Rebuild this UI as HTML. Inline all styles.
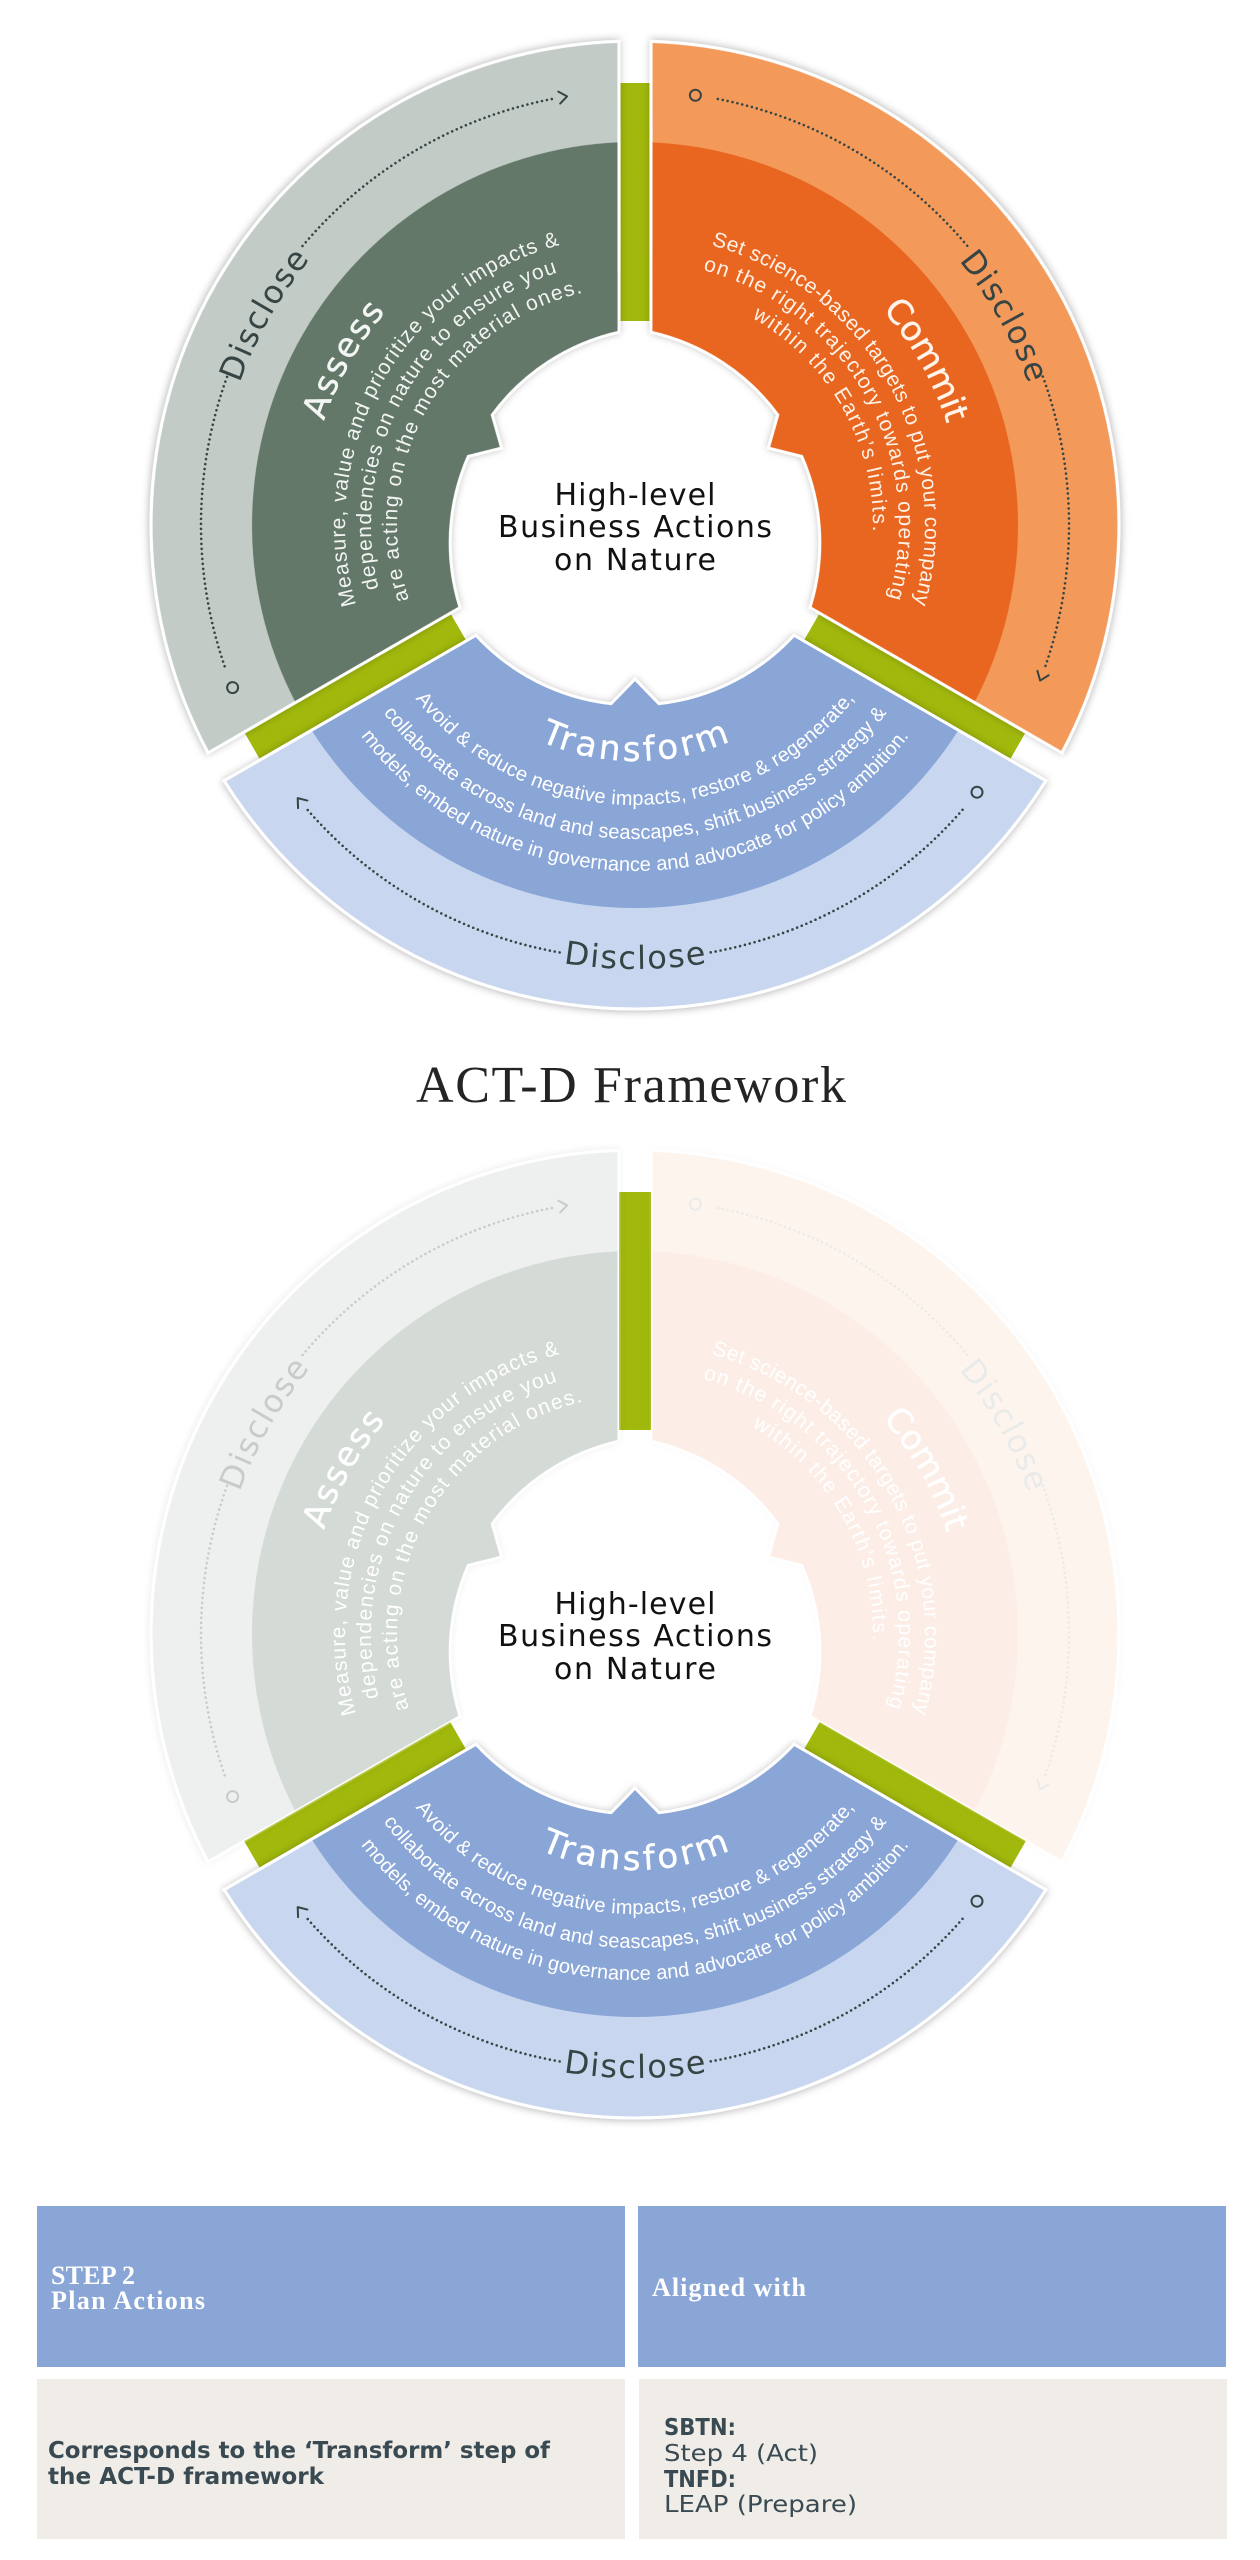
<!DOCTYPE html>
<html>
<head>
<meta charset="utf-8">
<style>
  html,body{margin:0;padding:0;background:#ffffff;}
  svg{display:block;}
  text{font-family:"Liberation Sans","DejaVu Sans",Arial,sans-serif;}
  .serif{font-family:"Liberation Serif","DejaVu Serif",serif;}
  .dv{font-family:"DejaVu Sans","Liberation Sans",sans-serif;}
</style>
</head>
<body>
<svg xmlns="http://www.w3.org/2000/svg" xmlns:xlink="http://www.w3.org/1999/xlink" width="1260" height="2560" viewBox="0 0 1260 2560">
<defs>
  <filter id="sh" x="-20%" y="-20%" width="140%" height="140%" color-interpolation-filters="sRGB">
    <feGaussianBlur in="SourceAlpha" stdDeviation="4"/>
    <feOffset dy="1" result="b"/>
    <feFlood flood-color="#000" flood-opacity="0.28"/>
    <feComposite in2="b" operator="in"/>
    <feMerge><feMergeNode/><feMergeNode in="SourceGraphic"/></feMerge>
  </filter>
  <path id="so" d="M410.92 255.72A484 484 0 0 1 -410.92 255.72L-158.96 110.25A216 216 0 0 0 -24 178.66L0 154L24 178.66A216 216 0 0 0 158.96 110.25Z"/>
  <path id="si" d="M323.39 205.19A383 383 0 0 1 -323.39 205.19L-158.96 110.25A216 216 0 0 0 -24 178.66L0 154L24 178.66A216 216 0 0 0 158.96 110.25Z"/>
  <g id="dt" fill="none" stroke-width="2">
    <path d="M327.54 284.75A434 434 0 0 1 75.36 427.41M-75.36 427.41A434 434 0 0 1 -327.54 284.75" stroke-width="2.6" stroke-linecap="round" stroke-dasharray="0 5"/>
    <circle cx="342" cy="267.2" r="5.5"/>
    <polyline points="-336.93,283.1 -337.3,273.1 -327.61,275.54" stroke-linecap="round" stroke-linejoin="round"/>
  </g>
  <path id="a420" d="M-294.38 299.57A420 420 0 0 1 105.16 -406.62"/>
  <path id="a328" d="M-229.90 233.95A328 328 0 0 1 82.12 -317.55"/>
  <path id="a290" d="M-203.26 206.84A290 290 0 0 1 72.61 -280.76"/>
  <path id="a264" d="M-185.04 188.30A264 264 0 0 1 66.10 -255.59"/>
  <path id="a238" d="M-166.82 169.75A238 238 0 0 1 59.59 -230.42"/>
  <path id="c418" d="M-104.66 -404.69A418 418 0 0 1 292.98 298.14"/>
  <path id="c328" d="M-82.12 -317.55A328 328 0 0 1 229.90 233.95"/>
  <path id="c290" d="M-72.61 -280.76A290 290 0 0 1 203.26 206.84"/>
  <path id="c264" d="M-66.10 -255.59A264 264 0 0 1 185.04 188.30"/>
  <path id="c238" d="M-59.59 -230.42A238 238 0 0 1 166.82 169.75"/>
  <path id="t236" d="M-227.96 61.08A236 236 0 0 0 227.96 61.08"/>
  <path id="t280" d="M-270.46 72.47A280 280 0 0 0 270.46 72.47"/>
  <path id="t314" d="M-303.30 81.27A314 314 0 0 0 303.30 81.27"/>
  <path id="t346" d="M-334.21 89.55A346 346 0 0 0 334.21 89.55"/>
  <path id="t444" d="M-428.87 114.92A444 444 0 0 0 428.87 114.92"/>
</defs>

<rect x="0" y="0" width="1260" height="2560" fill="#ffffff"/>

<!-- ================= DIAGRAM 1 ================= -->
<g transform="translate(635,525)">
  <g fill="#a1b80c">
    <rect x="-16" y="-442" width="32" height="238"/>
    <rect x="-16" y="-442" width="32" height="238" transform="rotate(120)"/>
    <rect x="-16" y="-442" width="32" height="238" transform="rotate(240)"/>
  </g>
  <g transform="rotate(120)" filter="url(#sh)">
    <use href="#so" fill="#c2cbc6" stroke="#ffffff" stroke-width="3"/>
    <use href="#si" fill="#637869"/>
    <use href="#so" fill="none" stroke="#ffffff" stroke-width="3"/>
  </g>
  <g transform="rotate(240)" filter="url(#sh)">
    <use href="#so" fill="#f39a5b" stroke="#ffffff" stroke-width="3"/>
    <use href="#si" fill="#e8661f"/>
    <use href="#so" fill="none" stroke="#ffffff" stroke-width="3"/>
  </g>
  <g filter="url(#sh)">
    <use href="#so" fill="#c8d7ef" stroke="#ffffff" stroke-width="3"/>
    <use href="#si" fill="#8aa6d7"/>
    <use href="#so" fill="none" stroke="#ffffff" stroke-width="3"/>
  </g>
  <use href="#dt" stroke="#364444" transform="rotate(120)"/>
  <use href="#dt" stroke="#364444" transform="rotate(240)"/>
  <use href="#dt" stroke="#364444"/>

  <!-- Assess -->
  <text class="dv" font-size="32" fill="#364444" text-anchor="middle"><textPath href="#a420" startOffset="50%" textLength="143" lengthAdjust="spacing">Disclose</textPath></text>
  <text class="dv" font-size="34" fill="#f3f6f4" stroke="#f3f6f4" stroke-width="0.4" text-anchor="middle"><textPath href="#a328" startOffset="50%" textLength="126" lengthAdjust="spacing">Assess</textPath></text>
  <text font-size="21" fill="#f1f4f2" text-anchor="middle"><textPath href="#a290" startOffset="50%" textLength="460" lengthAdjust="spacing">Measure, value and prioritize your impacts &amp;</textPath></text>
  <text font-size="21" fill="#f1f4f2" text-anchor="middle"><textPath href="#a264" startOffset="50%" textLength="400" lengthAdjust="spacing">dependencies on nature to ensure you</textPath></text>
  <text font-size="21" fill="#f1f4f2" text-anchor="middle"><textPath href="#a238" startOffset="50%" textLength="397" lengthAdjust="spacing">are acting on the most material ones.</textPath></text>

  <!-- Commit -->
  <text class="dv" font-size="32" fill="#364444" text-anchor="middle"><textPath href="#c418" startOffset="50%" textLength="142" lengthAdjust="spacing">Disclose</textPath></text>
  <text class="dv" font-size="34" fill="#fff3ea" stroke="#fff3ea" stroke-width="0.4" text-anchor="middle"><textPath href="#c328" startOffset="50%" textLength="132" lengthAdjust="spacing">Commit</textPath></text>
  <text font-size="21" fill="#fff1e6" text-anchor="middle"><textPath href="#c290" startOffset="50%" textLength="458" lengthAdjust="spacing">Set science-based targets to put your company</textPath></text>
  <text font-size="21" fill="#fff1e6" text-anchor="middle"><textPath href="#c264" startOffset="50%" textLength="420" lengthAdjust="spacing">on the right trajectory towards operating</textPath></text>
  <text font-size="21" fill="#fff1e6" text-anchor="middle"><textPath href="#c238" startOffset="50%" textLength="258" lengthAdjust="spacing">within the Earth’s limits.</textPath></text>

  <!-- Transform -->
  <text class="dv" font-size="34" fill="#ffffff" stroke="#ffffff" stroke-width="0.4" text-anchor="middle"><textPath href="#t236" startOffset="50%" textLength="196" lengthAdjust="spacing">Transform</textPath></text>
  <text font-size="20" fill="#ffffff" text-anchor="middle"><textPath href="#t280" startOffset="50%" textLength="505" lengthAdjust="spacing">Avoid &amp; reduce negative impacts, restore &amp; regenerate,</textPath></text>
  <text font-size="20" fill="#ffffff" text-anchor="middle"><textPath href="#t314" startOffset="50%" textLength="584" lengthAdjust="spacing">collaborate across land and seascapes, shift business strategy &amp;</textPath></text>
  <text font-size="20" fill="#ffffff" text-anchor="middle"><textPath href="#t346" startOffset="50%" textLength="633" lengthAdjust="spacing">models, embed nature in governance and advocate for policy ambition.</textPath></text>
  <text class="dv" font-size="32" fill="#364444" text-anchor="middle"><textPath href="#t444" startOffset="50%" textLength="144" lengthAdjust="spacing">Disclose</textPath></text>

  <g class="dv" font-size="30" fill="#111111" text-anchor="middle">
    <text class="dv" x="0" y="-20" textLength="161" lengthAdjust="spacing">High-level</text>
    <text class="dv" x="0" y="12" textLength="274" lengthAdjust="spacing">Business Actions</text>
    <text class="dv" x="0" y="45" textLength="162" lengthAdjust="spacing">on Nature</text>
  </g>
</g>

<!-- Title -->
<text class="serif" x="631" y="1102" font-size="52" fill="#242424" text-anchor="middle" textLength="430" lengthAdjust="spacing">ACT-D Framework</text>

<!-- ================= DIAGRAM 2 ================= -->
<g transform="translate(635,1634)">
  <g fill="#a1b80c">
    <rect x="-16" y="-442" width="32" height="238"/>
    <rect x="-16" y="-442" width="32" height="238" transform="rotate(120)"/>
    <rect x="-16" y="-442" width="32" height="238" transform="rotate(240)"/>
  </g>
  <g opacity="0.27">
    <g transform="rotate(120)" filter="url(#sh)">
      <use href="#so" fill="#c2cbc6" stroke="#ffffff" stroke-width="3"/>
      <use href="#si" fill="#637869"/>
      <use href="#so" fill="none" stroke="#ffffff" stroke-width="3"/>
    </g>
    <use href="#dt" stroke="#364444" transform="rotate(120)"/>
    <text class="dv" font-size="32" fill="#364444" text-anchor="middle"><textPath href="#a420" startOffset="50%" textLength="143" lengthAdjust="spacing">Disclose</textPath></text>
    <text class="dv" font-size="34" fill="#ffffff" stroke="#ffffff" stroke-width="0.4" text-anchor="middle"><textPath href="#a328" startOffset="50%" textLength="126" lengthAdjust="spacing">Assess</textPath></text>
    <text font-size="21" fill="#ffffff" text-anchor="middle"><textPath href="#a290" startOffset="50%" textLength="460" lengthAdjust="spacing">Measure, value and prioritize your impacts &amp;</textPath></text>
    <text font-size="21" fill="#ffffff" text-anchor="middle"><textPath href="#a264" startOffset="50%" textLength="400" lengthAdjust="spacing">dependencies on nature to ensure you</textPath></text>
    <text font-size="21" fill="#ffffff" text-anchor="middle"><textPath href="#a238" startOffset="50%" textLength="397" lengthAdjust="spacing">are acting on the most material ones.</textPath></text>
  </g>
  <g opacity="0.1">
    <g transform="rotate(240)" filter="url(#sh)">
      <use href="#so" fill="#f39a5b" stroke="#ffffff" stroke-width="3"/>
      <use href="#si" fill="#e8661f"/>
      <use href="#so" fill="none" stroke="#ffffff" stroke-width="3"/>
    </g>
    <use href="#dt" stroke="#364444" transform="rotate(240)"/>
    <text class="dv" font-size="32" fill="#364444" text-anchor="middle"><textPath href="#c418" startOffset="50%" textLength="142" lengthAdjust="spacing">Disclose</textPath></text>
    <text class="dv" font-size="34" fill="#ffffff" stroke="#ffffff" stroke-width="0.4" text-anchor="middle"><textPath href="#c328" startOffset="50%" textLength="132" lengthAdjust="spacing">Commit</textPath></text>
    <text font-size="21" fill="#ffffff" text-anchor="middle"><textPath href="#c290" startOffset="50%" textLength="458" lengthAdjust="spacing">Set science-based targets to put your company</textPath></text>
    <text font-size="21" fill="#ffffff" text-anchor="middle"><textPath href="#c264" startOffset="50%" textLength="420" lengthAdjust="spacing">on the right trajectory towards operating</textPath></text>
    <text font-size="21" fill="#ffffff" text-anchor="middle"><textPath href="#c238" startOffset="50%" textLength="258" lengthAdjust="spacing">within the Earth’s limits.</textPath></text>
  </g>
  <g filter="url(#sh)">
    <use href="#so" fill="#c8d7ef" stroke="#ffffff" stroke-width="3"/>
    <use href="#si" fill="#8aa6d7"/>
    <use href="#so" fill="none" stroke="#ffffff" stroke-width="3"/>
  </g>
  <use href="#dt" stroke="#364444"/>
  <text class="dv" font-size="34" fill="#ffffff" stroke="#ffffff" stroke-width="0.4" text-anchor="middle"><textPath href="#t236" startOffset="50%" textLength="196" lengthAdjust="spacing">Transform</textPath></text>
  <text font-size="20" fill="#ffffff" text-anchor="middle"><textPath href="#t280" startOffset="50%" textLength="505" lengthAdjust="spacing">Avoid &amp; reduce negative impacts, restore &amp; regenerate,</textPath></text>
  <text font-size="20" fill="#ffffff" text-anchor="middle"><textPath href="#t314" startOffset="50%" textLength="584" lengthAdjust="spacing">collaborate across land and seascapes, shift business strategy &amp;</textPath></text>
  <text font-size="20" fill="#ffffff" text-anchor="middle"><textPath href="#t346" startOffset="50%" textLength="633" lengthAdjust="spacing">models, embed nature in governance and advocate for policy ambition.</textPath></text>
  <text class="dv" font-size="32" fill="#364444" text-anchor="middle"><textPath href="#t444" startOffset="50%" textLength="144" lengthAdjust="spacing">Disclose</textPath></text>

  <g font-size="30" fill="#111111" text-anchor="middle">
    <text class="dv" x="0" y="-20" textLength="161" lengthAdjust="spacing">High-level</text>
    <text class="dv" x="0" y="12" textLength="274" lengthAdjust="spacing">Business Actions</text>
    <text class="dv" x="0" y="45" textLength="162" lengthAdjust="spacing">on Nature</text>
  </g>
</g>

<!-- ================= TABLE ================= -->
<rect x="37" y="2206" width="588" height="161" fill="#8aa6d7"/>
<rect x="638" y="2206" width="588" height="161" fill="#8aa6d7"/>
<rect x="37" y="2379" width="588" height="160" fill="#f0ede8"/>
<rect x="639" y="2379" width="588" height="160" fill="#f0ede8"/>

<text class="serif" x="51" y="2284" font-size="26" font-weight="bold" fill="#ffffff" textLength="84" lengthAdjust="spacing">STEP 2</text>
<text class="serif" x="51" y="2309" font-size="26" font-weight="bold" fill="#ffffff" textLength="154" lengthAdjust="spacing">Plan Actions</text>
<text class="serif" x="652" y="2296" font-size="26" font-weight="bold" fill="#ffffff" textLength="154" lengthAdjust="spacing">Aligned with</text>

<text class="dv" x="48" y="2458" font-size="23" font-weight="bold" fill="#394a52" textLength="502" lengthAdjust="spacingAndGlyphs">Corresponds to the ‘Transform’ step of</text>
<text class="dv" x="48" y="2484" font-size="23" font-weight="bold" fill="#394a52" textLength="276" lengthAdjust="spacingAndGlyphs">the ACT-D framework</text>

<text class="dv" x="664" y="2435" font-size="23" font-weight="bold" fill="#394a52" textLength="72" lengthAdjust="spacingAndGlyphs">SBTN:</text>
<text class="dv" x="664" y="2461" font-size="23" fill="#394a52" textLength="154" lengthAdjust="spacingAndGlyphs">Step 4 (Act)</text>
<text class="dv" x="664" y="2487" font-size="23" font-weight="bold" fill="#394a52" textLength="72" lengthAdjust="spacingAndGlyphs">TNFD:</text>
<text class="dv" x="664" y="2512" font-size="23" fill="#394a52" textLength="193" lengthAdjust="spacingAndGlyphs">LEAP (Prepare)</text>
</svg>
</body>
</html>
